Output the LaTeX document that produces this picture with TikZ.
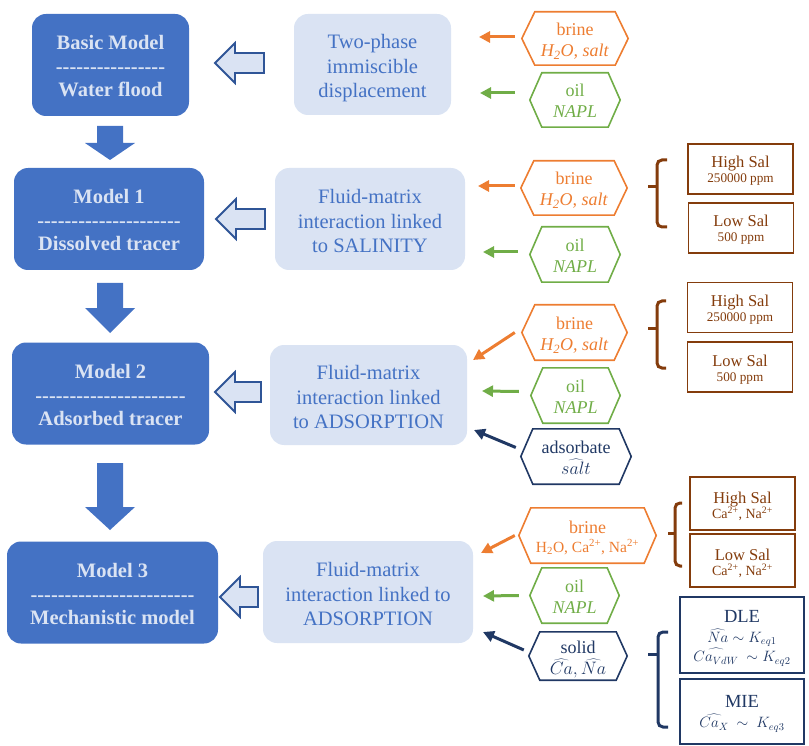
\documentclass[tikz,border=0pt]{standalone}
\usepackage{fix-cm}
\usepackage{fontspec}
\setmainfont{Liberation Serif}
\usetikzlibrary{arrows.meta}
\definecolor{dblue}{HTML}{4472C4}
\definecolor{lblue}{HTML}{DAE3F3}
\definecolor{oblue}{HTML}{2F5597}
\definecolor{orng}{HTML}{ED7D31}
\definecolor{grn}{HTML}{70AD47}
\definecolor{brwn}{HTML}{843C0C}
\definecolor{navy}{HTML}{203864}
\newcommand\dashrow[1]{\foreach \i in {1,...,#1}{-\kern0pt}}
\newcommand\upst[1]{\rule{0pt}{#1pt}}
\newcommand\dnst[1]{\rule[-#1pt]{0pt}{#1pt}}
\newcommand\hexo[3]{\draw[#3, line width=1.6] (#1.west) -- ([xshift=#2]#1.north west) -- ([xshift=-#2]#1.north east) -- (#1.east) -- ([xshift=-#2]#1.south east) -- ([xshift=#2]#1.south west) -- cycle;}
\tikzset{
  model/.style={fill=dblue, rounded corners=14, text=lblue, inner sep=0, align=center,
    font=\fontsize{20.5}{23.5}\selectfont\bfseries},
  proc/.style={fill=lblue, rounded corners=14, text=dblue, inner sep=0, align=center,
    font=\fontsize{20.5}{24.5}\selectfont},
  hex/.style={inner sep=0, align=center, font=\fontsize{18}{21}\selectfont},
  salbox/.style={draw=brwn, line width=1.6, fill=white, text=brwn, inner sep=0, align=center,
    minimum width=105, minimum height=50, font=\fontsize{13.2}{15}\selectfont},
  navbox/.style={draw=navy, line width=1.6, fill=white, text=navy, inner sep=0, align=center,
    minimum width=124},
  sarr/.style={line width=3, -{Triangle[length=11,width=11]}},
  brace/.style={line width=3, rounded corners=5},
  pics/hollarrow/.style={code={\draw[fill=lblue, draw=oblue, line width=1.8]
    (0,0) -- (20,-20) -- (20,-10) -- (#1,-10) -- (#1,10) -- (20,10) -- (20,20) -- cycle;}},
  pics/downarrow/.style 2 args={code={\fill[dblue]
    (-13,0) -- (13,0) -- (13,#1-#2) -- (25,#1-#2) -- (0,#1) -- (-25,#1-#2) -- (-13,#1-#2) -- cycle;}}
}
\begin{document}
\begin{tikzpicture}[x=1pt,y=-1pt]
\useasboundingbox (0,0) rectangle (809,746);

% model boxes
\node[model, minimum width=157, minimum height=102] (m0) at (110.5,65) {\upst{19.5}Basic Model\\\dashrow{16}\\Water flood\dnst{2.5}};
\node[model, minimum width=190, minimum height=102] (m1) at (109,219) {\upst{19.5}Model 1\\\dashrow{21}\\Dissolved tracer\dnst{2.5}};
\node[model, minimum width=197, minimum height=102] (m2) at (110.5,393.5) {\upst{19.5}Model 2\\\dashrow{22}\\Adsorbed tracer\dnst{2.5}};
\node[model, minimum width=211, minimum height=102] (m3) at (112.5,592.5) {\upst{19.5}Model 3\\\dashrow{24}\\Mechanistic model\dnst{2.5}};

% down arrows
\pic at (110,126) {downarrow={34}{17}};
\pic at (110,283) {downarrow={50}{25}};
\pic at (110,463) {downarrow={67}{23}};

% process boxes
\node[proc, minimum width=157, minimum height=101] (p0) at (372.5,64.5) {\upst{22.5}Two-phase\\immiscible\\displacement\dnst{4.5}};
\node[proc, minimum width=190, minimum height=102] (p1) at (370,219) {\upst{22.5}Fluid-matrix\\interaction linked\\to SALINITY\dnst{4.5}};
\node[proc, minimum width=197, minimum height=100] (p2) at (368.5,395) {\upst{22.5}Fluid-matrix\\interaction linked\\to ADSORPTION\dnst{4.5}};
\node[proc, minimum width=210, minimum height=102] (p3) at (368,592) {\upst{22.5}Fluid-matrix\\interaction linked to\\ADSORPTION\dnst{4.5}};

% hollow arrows
\pic at (215,63) {hollarrow=49};
\pic at (216,219) {hollarrow=49};
\pic at (215,392) {hollarrow=46};
\pic at (220,597) {hollarrow=38};

% hexagons
\node[hex, text=orng, minimum width=106, minimum height=53] (b1) at (575,38.5) {\upst{19}brine\\\textit{H\textsubscript{2}O, salt}\dnst{4}};
\hexo{b1}{13}{orng}
\node[hex, text=grn, minimum width=90, minimum height=54] (o1) at (575,100) {\upst{19}oil\\\textit{NAPL}\dnst{4}};
\hexo{o1}{12}{grn}
\node[hex, text=orng, minimum width=106, minimum height=54] (b2) at (574,188) {\upst{19}brine\\\textit{H\textsubscript{2}O, salt}\dnst{4}};
\hexo{b2}{13}{orng}
\node[hex, text=grn, minimum width=90, minimum height=55] (o2) at (575,254.5) {\upst{19}oil\\\textit{NAPL}\dnst{4}};
\hexo{o2}{12}{grn}
\node[hex, text=orng, minimum width=105, minimum height=55] (b3) at (574.5,332.5) {\upst{19}brine\\\textit{H\textsubscript{2}O, salt}\dnst{4}};
\hexo{b3}{13}{orng}
\node[hex, text=grn, minimum width=89, minimum height=55] (o3) at (575.5,395.5) {\upst{19}oil\\\textit{NAPL}\dnst{4}};
\hexo{o3}{12}{grn}
\node[hex, text=navy, minimum width=110, minimum height=55] (ad) at (576,456.5) {\upst{19}adsorbate\\$\widehat{salt}$\dnst{4}};
\hexo{ad}{12}{navy}
\node[hex, text=orng, minimum width=137, minimum height=55, font=\fontsize{18}{19.5}\selectfont] (b4) at (587.5,535.5) {\upst{17.5}brine\\{\fontsize{15.5}{19.5}\selectfont H\textsubscript{2}O, Ca\textsuperscript{2+}, Na\textsuperscript{2+}}\dnst{3}};
\hexo{b4}{12}{orng}
\node[hex, text=grn, minimum width=89, minimum height=55] (o4) at (574.5,595.5) {\upst{19}oil\\\textit{NAPL}\dnst{4}};
\hexo{o4}{12}{grn}
\node[hex, text=navy, minimum width=98, minimum height=48] (so) at (578,656) {\upst{19}solid\\$\widehat{Ca},\widehat{Na}$\dnst{4}};
\hexo{so}{11}{navy}

% arrow end coordinates
\coordinate (t1) at (479,37);
\coordinate (t2) at (480,93);
\coordinate (t3) at (478,186);
\coordinate (t4) at (483,252);
\coordinate (t5) at (473,360);
\coordinate (t6) at (482,391);
\coordinate (t7) at (474,430);
\coordinate (t8) at (481,553);
\coordinate (t9) at (483,596);
\coordinate (t10) at (483,632);

\draw[sarr, orng] ([xshift=-7,yshift=1.5]b1.west) -- (t1);
\draw[sarr, grn] ([xshift=-15,yshift=7]o1.west) -- (t2);
\draw[sarr, orng] ([xshift=-6,yshift=2]b2.west) -- (t3);
\draw[sarr, grn] ([xshift=-12,yshift=2.5]o2.west) -- (t4);
\draw[sarr, orng] ([xshift=-7]b3.west) -- (t5);
\draw[sarr, grn] ([xshift=-12,yshift=4]o3.west) -- (t6);
\draw[sarr, navy] ([xshift=-5,yshift=9]ad.west) -- (t7);
\draw[sarr, orng] ([xshift=-4]b4.west) -- (t8);
\draw[sarr, grn] ([xshift=-11]o4.west) -- (t9);
\draw[sarr, navy] ([xshift=-5,yshift=6]so.west) -- (t10);

% salinity boxes
\node[salbox] (hs1) at (740.5,169) {\upst{16}{\fontsize{16.5}{15}\selectfont High Sal}\\250000 ppm\dnst{3}};
\node[salbox] (ls1) at (741,228) {\upst{16}{\fontsize{16.5}{15}\selectfont Low Sal}\\500 ppm\dnst{3}};
\node[salbox] (hs2) at (740,307.5) {\upst{16}{\fontsize{16.5}{15}\selectfont High Sal}\\250000 ppm\dnst{3}};
\node[salbox] (ls2) at (740,367) {\upst{16}{\fontsize{16.5}{15}\selectfont Low Sal}\\500 ppm\dnst{3}};
\node[salbox, minimum height=53, font=\fontsize{14}{15.5}\selectfont] (hs3) at (742.5,503.5) {\upst{17.5}{\fontsize{16.5}{15.5}\selectfont High Sal}\\Ca\textsuperscript{2+}, Na\textsuperscript{2+}\dnst{3}};
\node[salbox, minimum height=53, font=\fontsize{14}{15.5}\selectfont] (ls3) at (742.5,560.5) {\upst{17.5}{\fontsize{16.5}{15.5}\selectfont Low Sal}\\Ca\textsuperscript{2+}, Na\textsuperscript{2+}\dnst{3}};
\node[navbox, minimum height=76, font=\fontsize{15}{19.5}\selectfont] (dle) at (742,635) {\upst{19}{\fontsize{18.5}{19.5}\selectfont DLE}\\$\widehat{Na}\sim K_{eq1}$\\$\widehat{Ca_{VdW}}\ \sim K_{eq2}$\dnst{4}};
\node[navbox, minimum height=65, font=\fontsize{15}{20}\selectfont] (mie) at (742,711.5) {\upst{17}{\fontsize{18.5}{20}\selectfont MIE}\\$\widehat{Ca_{X}}\ \sim\ K_{eq3}$\dnst{4}};

% braces
\draw[brace, brwn] (667,160) -- (657,160) -- (657,227) -- (667,227);
\draw[line width=3, brwn] (657,187) -- (648,187);
\draw[brace, brwn] (666,301) -- (657,301) -- (657,368) -- (666,368);
\draw[line width=3, brwn] (657,328) -- (648,328);
\draw[brace, brwn] (682,503) -- (675,503) -- (675,566) -- (682,566);
\draw[line width=3, brwn] (675,533) -- (668,533);
\draw[brace, navy] (668,632) -- (658,632) -- (658,727) -- (668,727);
\draw[line width=3, navy] (658,654) -- (648,654);
\end{tikzpicture}
\end{document}
